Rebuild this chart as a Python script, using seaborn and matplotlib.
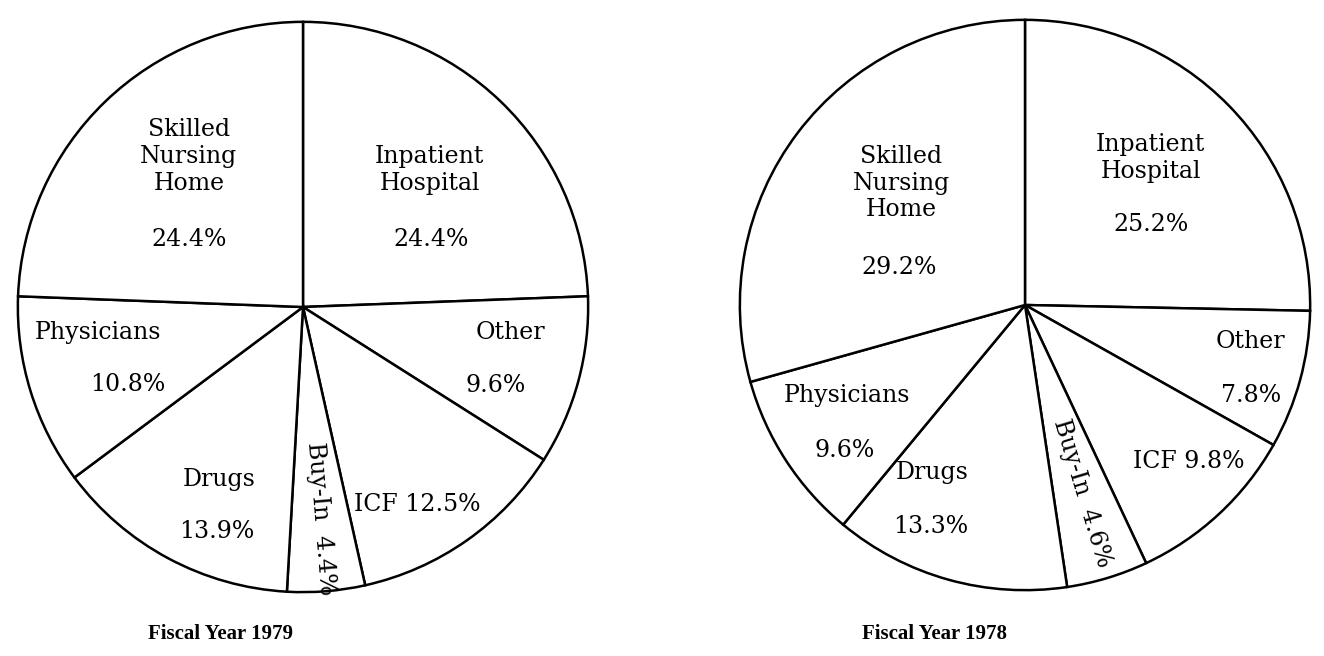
import matplotlib
matplotlib.use("Agg")
import matplotlib.pyplot as plt
import seaborn as sns
import numpy as np

# ---- data ----
categories = ["Inpatient Hospital", "Other", "ICF", "Buy-In", "Drugs",
              "Physicians", "Skilled Nursing Home"]
values_1979 = [24.4, 9.6, 12.5, 4.4, 13.9, 10.8, 24.4]
values_1978 = [25.2, 7.8, 9.8, 4.6, 13.3, 9.6, 29.2]
titles = ["Fiscal Year 1979", "Fiscal Year 1978"]

# ---- layout (pie units, relative to centre) ----
name_text = {
    "Inpatient Hospital": "Inpatient\nHospital",
    "Other": "Other",
    "Drugs": "Drugs",
    "Physicians": "Physicians",
    "Skilled Nursing Home": "Skilled\nNursing\nHome",
}
layout_1979 = {
    "Skilled Nursing Home": ((-0.40, 0.528), (-0.40, 0.236)),
    "Inpatient Hospital": ((0.444, 0.481), (0.448, 0.236)),
    "Physicians": ((-0.719, -0.090), (-0.615, -0.271)),
    "Other": ((0.726, -0.090), (0.677, -0.274)),
    "Drugs": ((-0.295, -0.604), (-0.302, -0.788)),
    "ICF": ((0.40, -0.694), None),
}
layout_1978 = {
    "Skilled Nursing Home": ((-0.434, 0.427), (-0.441, 0.132)),
    "Inpatient Hospital": ((0.441, 0.516), (0.441, 0.281)),
    "Physicians": ((-0.625, -0.319), (-0.632, -0.510)),
    "Other": ((0.792, -0.128), (0.792, -0.319)),
    "Drugs": ((-0.326, -0.587), (-0.330, -0.778)),
    "ICF": ((0.573, -0.549), None),
}
buyin_radius = [0.745, 0.69]

sns.set_theme(style="white")
plt.rcParams['font.family'] = ['DejaVu Serif']

W, H = 1324, 656
fig = plt.figure(figsize=(W / 100, H / 100), dpi=100)
fig.patch.set_facecolor("white")
R = 288
centers = [(303, 307), (1025, 305)]
title_pos = [(221, 634), (935, 634)]
FS = 17

for values, layout, (cx, cy), brad in zip([values_1979, values_1978],
                                           [layout_1979, layout_1978],
                                           centers, buyin_radius):
    ax = fig.add_axes([(cx - R) / W, (H - cy - R) / H, 2 * R / W, 2 * R / H])
    wedges, _ = ax.pie(values, startangle=90, counterclock=False,
                       colors=["white"] * len(values),
                       wedgeprops=dict(edgecolor="black", linewidth=1.8),
                       radius=1.0)
    ax.set_xlim(-1.01, 1.01)
    ax.set_ylim(-1.01, 1.01)
    ax.set_axis_off()
    for cat, val, w in zip(categories, values, wedges):
        pct = f"{val:.1f}%"
        if cat == "Buy-In":
            mid = (w.theta1 + w.theta2) / 2.0
            if mid > 180:
                mid -= 360
            a = np.deg2rad(mid)
            ax.text(brad * np.cos(a), brad * np.sin(a), f"Buy-In  {pct}",
                    rotation=mid, rotation_mode="anchor", ha="center",
                    va="center", fontsize=FS, color="black")
        elif cat == "ICF":
            (x, y), _ = layout[cat]
            ax.text(x, y, f"ICF {pct}", ha="center", va="center",
                    fontsize=FS, color="black")
        else:
            (x, y), (px, py) = layout[cat]
            ax.text(x, y, name_text[cat], ha="center", va="center",
                    fontsize=FS, color="black", linespacing=1.2)
            ax.text(px, py, pct, ha="center", va="center",
                    fontsize=FS, color="black")

for t, (tx, ty) in zip(titles, title_pos):
    fig.text(tx / W, 1 - ty / H, t, ha="center", va="center",
             fontsize=15, fontweight="bold", family="Liberation Serif",
             color="black")

fig.savefig("out.png", dpi=100, facecolor="white")
